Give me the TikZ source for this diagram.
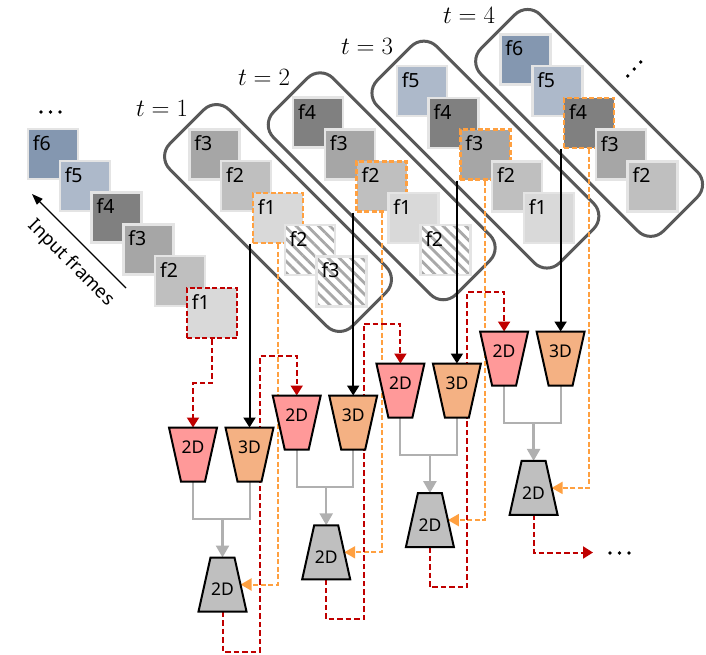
\documentclass[tikz,border=0pt]{standalone}
\usepackage[no-math]{fontspec}
\newfontfamily\lblfont{Noto Sans}
\usetikzlibrary{arrows.meta,calc,patterns.meta}
\pgfdeclarelayer{fg}
\pgfsetlayers{main,fg}

\definecolor{cf6}{HTML}{8497B0}
\definecolor{cf5}{HTML}{ADB9CA}
\definecolor{cf4}{HTML}{808080}
\definecolor{cf3}{HTML}{A6A6A6}
\definecolor{cf2}{HTML}{BFBFBF}
\definecolor{cf1}{HTML}{D9D9D9}
\definecolor{fborder}{HTML}{E4E4E4}
\definecolor{hatchc}{HTML}{A8A8A8}
\definecolor{wincol}{HTML}{595959}
\definecolor{pinkc}{HTML}{FF9999}
\definecolor{orc}{HTML}{F4B183}
\definecolor{decc}{HTML}{BFBFBF}
\definecolor{redc}{HTML}{C00000}
\definecolor{orangec}{HTML}{FFA040}
\definecolor{glinec}{HTML}{B0B0B0}

\tikzset{
 frm/.style={rectangle, minimum size=50pt, inner sep=0pt, draw=fborder, line width=2.5pt},
 orgfrm/.style={draw=orangec, dash pattern=on 5pt off 2.5pt},
 redfrm/.style={draw=redc, dash pattern=on 5pt off 2.5pt},
 hatched/.style={preaction={fill=white}, pattern={Lines[angle=-45,distance=8pt,line width=2.8pt]}, pattern color=hatchc},
 flab/.style={font=\lblfont\fontsize{19.5}{21}\selectfont, inner sep=0pt, anchor=north west},
 win/.style={draw=wincol, line width=3pt, rounded corners=18pt, minimum width=258pt, minimum height=84pt, rotate=-45, inner sep=0pt},
 blab/.style={font=\lblfont\fontsize{17.5}{20}\selectfont, inner sep=0pt},
 blockbox/.style={rectangle, minimum width=36pt, minimum height=54pt, inner sep=0pt, outer sep=0pt},
 blockline/.style={draw=black, line width=2pt, line join=miter},
 tlab/.style={font=\fontsize{23}{26}\selectfont, inner sep=0pt},
 redarrow/.style={draw=redc, line width=2pt, dash pattern=on 5.5pt off 3pt, -{Triangle[width=12pt,length=10pt]}},
 orarrow/.style={draw=orangec, line width=2pt, dash pattern=on 5pt off 2.5pt, -{Triangle[width=12pt,length=11pt]}},
 blkarrow/.style={draw=black, line width=2pt, -{Triangle[width=12pt,length=10pt]}},
 gline/.style={draw=glinec, line width=2pt},
 garrow/.style={draw=glinec, line width=2.5pt, -{Triangle[width=13pt,length=12pt]}},
}

\newcommand{\mkframe}[5][]{%
  \node[frm, fill=#4, #1] (#2) at (#3) {};
  \node[flab] (#2l) at ([xshift=6pt,yshift=-7.5pt]#2.north west) {#5};
}
% encoder: wide top, narrow bottom
\newcommand{\mkenc}[4]{%
  \node[blockbox] (#1) at (#2) {};
  \draw[blockline, fill=#3] ([xshift=-6pt]#1.north west) -- ([xshift=6pt]#1.north east)
     -- ([xshift=-6pt]#1.south east) -- ([xshift=6pt]#1.south west) -- cycle;
  \node[blab] (#1l) at ([yshift=7pt]#1.center) {#4};
}
% decoder: narrow top, wide bottom
\newcommand{\mkdec}[3]{%
  \node[blockbox] (#1) at (#2) {};
  \draw[blockline, fill=decc] ([xshift=6pt]#1.north west) -- ([xshift=-6pt]#1.north east)
     -- ([xshift=6pt]#1.south east) -- ([xshift=-6pt]#1.south west) -- cycle;
  \node[blab] (#1l) at ([yshift=-5pt]#1.center) {#3};
}

\begin{document}
\begin{tikzpicture}[x=1pt,y=-1pt]
\useasboundingbox (0,0) rectangle (706,654);

% input frames
\mkframe{i6}{53,154}{cf6}{f6}
\mkframe{i5}{84.8,185.8}{cf5}{f5}
\mkframe{i4}{116.6,217.6}{cf4}{f4}
\mkframe{i3}{148.4,249.4}{cf3}{f3}
\mkframe{i2}{180.2,281.2}{cf2}{f2}
\mkframe[redfrm]{i1}{212,313}{cf1}{f1}

% window 1
\mkframe{w1a}{214.4,154.4}{cf3}{f3}
\mkframe{w1b}{246.2,186.2}{cf2}{f2}
\mkframe[orgfrm]{w1c}{278,218}{cf1}{f1}
\mkframe[hatched]{w1d}{309.8,249.8}{white}{f2}
\mkframe[hatched]{w1e}{341.6,281.6}{white}{f3}
\node[win] (W1) at (w1c) {};

% window 2
\mkframe{w2a}{318.1,122.7}{cf4}{f4}
\mkframe{w2b}{349.9,154.5}{cf3}{f3}
\mkframe[orgfrm]{w2c}{381.7,186.3}{cf2}{f2}
\mkframe{w2d}{413.5,218.1}{cf1}{f1}
\mkframe[hatched]{w2e}{445.3,249.9}{white}{f2}
\node[win] (W2) at (w2c) {};

% window 3
\mkframe{w3a}{421.8,91}{cf5}{f5}
\mkframe{w3b}{453.6,122.8}{cf4}{f4}
\mkframe[orgfrm]{w3c}{485.4,154.6}{cf3}{f3}
\mkframe{w3d}{517.2,186.4}{cf2}{f2}
\mkframe{w3e}{549,218.2}{cf1}{f1}
\node[win] (W3) at (w3c) {};

% window 4
\mkframe{w4a}{525.5,59.3}{cf6}{f6}
\mkframe{w4b}{557.3,91.1}{cf5}{f5}
\mkframe[orgfrm]{w4c}{589.1,122.9}{cf4}{f4}
\mkframe{w4d}{620.9,154.7}{cf3}{f3}
\mkframe{w4e}{652.7,186.5}{cf2}{f2}
\node[win] (W4) at (w4c) {};

% time labels
\node[tlab] (t1l) at (162,108) {$t=1$};
\node[tlab] (t2l) at (264,77) {$t=2$};
\node[tlab] (t3l) at (367,46) {$t=3$};
\node[tlab] (t4l) at (469,15) {$t=4$};

% dots
\fill (41,112) circle (1.9) (50.5,112) circle (1.9) (60,112) circle (1.9);
\fill (627.7,76) circle (1.9) (634.2,69) circle (1.9) (640.7,62) circle (1.9);
\fill (610,553) circle (1.9) (619.5,553) circle (1.9) (629,553) circle (1.9);

% input frames arrow and label
\coordinate (ia1) at (126,288);
\coordinate (ia2) at (32,194);
\draw[line width=1.2pt, -{Triangle[width=8pt,length=11pt]}] (ia1) -- (ia2);
\node[rotate=-45, font=\lblfont\fontsize{18.5}{20}\selectfont, inner sep=0pt] (inlab) at (71,263) {Input frames};

% blocks (foreground)
\begin{pgfonlayer}{fg}
\mkenc{p0}{193,454.5}{pinkc}{2D}
\mkenc{t0}{249.5,454.5}{orc}{3D}
\mkdec{d0}{222.5,584.5}{2D}
\mkenc{p1}{296.7,422.5}{pinkc}{2D}
\mkenc{t1}{353.2,422.5}{orc}{3D}
\mkdec{d1}{326.2,552.3}{2D}
\mkenc{p2}{400.4,390.5}{pinkc}{2D}
\mkenc{t2}{456.9,390.5}{orc}{3D}
\mkdec{d2}{429.9,520.1}{2D}
\mkenc{p3}{504.1,358.5}{pinkc}{2D}
\mkenc{t3}{560.6,358.5}{orc}{3D}
\mkdec{d3}{533.6,487.9}{2D}
\end{pgfonlayer}

% black arrows (3D input)
\draw[blkarrow] (t0.north |- w1c.south) -- (t0.north);
\draw[blkarrow] (t1.north |- w2c.south) -- (t1.north);
\draw[blkarrow] (t2.north |- w3c.south) -- (t2.north);
\draw[blkarrow] (t3.north |- w4c.south) -- (t3.north);

% orange skip arrows
\draw[orarrow] (w1c.south) |- (d0.east);
\draw[orarrow] (w2c.south) |- (d1.east);
\draw[orarrow] (w3c.south) |- (d2.east);
\draw[orarrow] (w4c.south) |- (d3.east);

% gray merges
\foreach \k in {0,1,2,3}{
  \coordinate (j\k) at ($(p\k.south)+(0,37)$);
  \draw[gline] (p\k.south) -- (j\k) -| (t\k.south);
  \draw[garrow] (d\k.north |- j\k) -- (d\k.north);
}

% red recurrent arrows
\draw[redarrow] (i1.south) -- ++(0,44) -| (p0.north);
\foreach \k/\n in {0/1,1/2,2/3}{
  \coordinate (rx\k) at ([xshift=10.5pt]t\k.south);
  \coordinate (ry\n) at ([yshift=40pt]p\n.north);
  \draw[redarrow] (d\k.south) -- ++(0,40) -| (rx\k) |- (ry\n) -- (p\n.north);
}
\coordinate (rend) at (593,552.5);
\draw[redarrow] (d3.south) |- (rend);

\end{tikzpicture}
\end{document}
